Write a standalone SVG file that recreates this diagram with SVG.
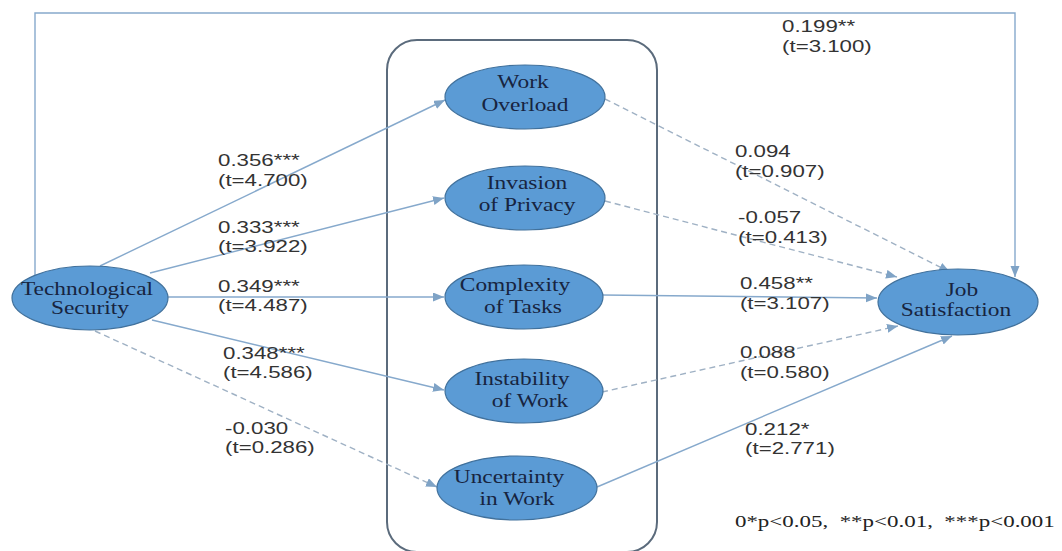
<svg xmlns="http://www.w3.org/2000/svg" width="1062" height="551" viewBox="0 0 1062 551">
  <style>
    .node { fill: #5b9bd5; stroke: #41719c; stroke-width: 1.2; }
    .ntext { font-family: 'Liberation Serif', 'Times New Roman', serif; font-size: 18px; fill: #17243f; text-anchor: middle; }
    .lbl { font-family: 'Liberation Sans', Arial, sans-serif; font-size: 16.5px; fill: #333333; }
    .legend { font-family: 'Liberation Serif', 'Times New Roman', serif; font-size: 17px; fill: #222222; }
    .solid { fill: none; stroke: #86a9cc; stroke-width: 1.4; marker-end: url(#arrow); }
    .dash { fill: none; stroke: #9fb1c4; stroke-width: 1.4; stroke-dasharray: 6 4; marker-end: url(#arrow); }
    .frame { fill: none; stroke: #5b6b7c; stroke-width: 2; }
  </style>
  <defs>
    <marker id="arrow" markerUnits="userSpaceOnUse" markerWidth="12" markerHeight="10" refX="11" refY="4.5" orient="auto">
      <path d="M0,0 L11,4.5 L0,9 z" fill="#7fa3c6"/>
    </marker>
  </defs>
  <rect width="1062" height="551" fill="#ffffff"/>

  <!-- mediator container -->
  <rect class="frame" x="387" y="40" width="270" height="512" rx="30" ry="30"/>

  <!-- paths -->
  <g id="connectors">
    <path class="solid" d="M35,277 L35,13 L1015,13 L1015,277"/>
    <line class="solid" x1="100" y1="266" x2="445" y2="100"/>
    <line class="solid" x1="150" y1="273" x2="444" y2="198"/>
    <line class="solid" x1="168" y1="297" x2="444" y2="297"/>
    <line class="solid" x1="152" y1="320" x2="444" y2="390"/>
    <line class="dash" x1="95" y1="331" x2="437" y2="487"/>
    <line class="dash" x1="605" y1="99" x2="950" y2="272"/>
    <line class="dash" x1="605" y1="201" x2="897" y2="277"/>
    <line class="solid" x1="602" y1="295" x2="877" y2="298"/>
    <line class="dash" x1="602" y1="392" x2="898" y2="326"/>
    <line class="solid" x1="597" y1="487" x2="952" y2="336"/>
  </g>

  <g id="tech-security">
    <ellipse class="node" cx="90" cy="298" rx="78" ry="32"/>
  </g>
  <g id="work-overload">
    <ellipse class="node" cx="525" cy="97" rx="80" ry="32"/>
  </g>
  <g id="invasion-privacy">
    <ellipse class="node" cx="525" cy="198" rx="80" ry="32"/>
  </g>
  <g id="complexity-tasks">
    <ellipse class="node" cx="524" cy="297" rx="79" ry="32"/>
  </g>
  <g id="instability-work">
    <ellipse class="node" cx="524" cy="391" rx="79" ry="32"/>
  </g>
  <g id="uncertainty-work">
    <ellipse class="node" cx="517" cy="488" rx="80" ry="32"/>
  </g>
  <g id="job-satisfaction">
    <ellipse class="node" cx="958" cy="302" rx="80" ry="33"/>
  </g>

  <!-- all text is drawn horizontally widened -->
  <g transform="scale(1.3 1)">
    <g id="node-labels">
      <text class="ntext" x="66.9" y="295">Technological</text>
      <text class="ntext" x="69.2" y="314">Security</text>
      <text class="ntext" x="402.3" y="88">Work</text>
      <text class="ntext" x="403.8" y="111">Overload</text>
      <text class="ntext" x="405.4" y="189">Invasion</text>
      <text class="ntext" x="405.4" y="211">of Privacy</text>
      <text class="ntext" x="396.2" y="291">Complexity</text>
      <text class="ntext" x="402.3" y="313">of Tasks</text>
      <text class="ntext" x="401.5" y="385">Instability</text>
      <text class="ntext" x="407.7" y="407">of Work</text>
      <text class="ntext" x="391.5" y="483">Uncertainty</text>
      <text class="ntext" x="397.7" y="505">in Work</text>
      <text class="ntext" x="740" y="296">Job</text>
      <text class="ntext" x="735.4" y="316">Satisfaction</text>
    </g>
  </g>
  <g transform="scale(1.35 1)">
    <g id="path-labels">
      <text class="lbl" x="161.5" y="166">0.356***</text>
      <text class="lbl" x="161.5" y="186">(t=4.700)</text>
      <text class="lbl" x="161.5" y="233">0.333***</text>
      <text class="lbl" x="161.5" y="252">(t=3.922)</text>
      <text class="lbl" x="161.5" y="292">0.349***</text>
      <text class="lbl" x="161.5" y="311">(t=4.487)</text>
      <text class="lbl" x="165.2" y="359">0.348***</text>
      <text class="lbl" x="165.2" y="378">(t=4.586)</text>
      <text class="lbl" x="166.7" y="434">-0.030</text>
      <text class="lbl" x="166.7" y="453">(t=0.286)</text>
      <text class="lbl" x="579.3" y="32">0.199**</text>
      <text class="lbl" x="579.3" y="52">(t=3.100)</text>
      <text class="lbl" x="544.4" y="157">0.094</text>
      <text class="lbl" x="544.4" y="177">(t=0.907)</text>
      <text class="lbl" x="546.7" y="223">-0.057</text>
      <text class="lbl" x="546.7" y="243">(t=0.413)</text>
      <text class="lbl" x="548.1" y="289">0.458**</text>
      <text class="lbl" x="548.1" y="309">(t=3.107)</text>
      <text class="lbl" x="548.1" y="358">0.088</text>
      <text class="lbl" x="548.1" y="378">(t=0.580)</text>
      <text class="lbl" x="551.9" y="435">0.212*</text>
      <text class="lbl" x="551.9" y="454">(t=2.771)</text>
    </g>
    <text class="legend" x="544.4" y="527" xml:space="preserve">0*p&lt;0.05,  **p&lt;0.01,  ***p&lt;0.001</text>
  </g>
</svg>
